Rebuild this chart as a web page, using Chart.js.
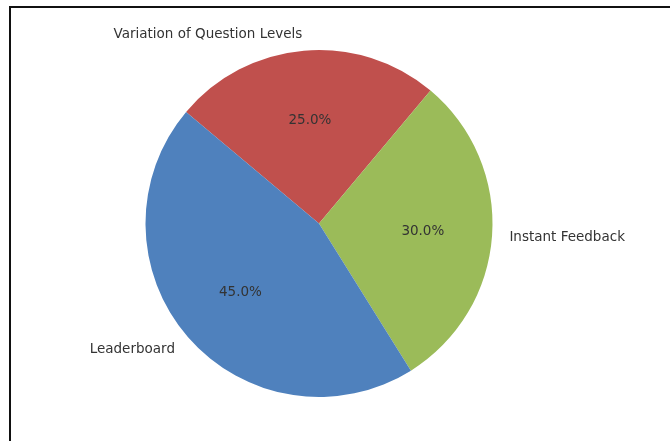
<!DOCTYPE html>
<html>
<head>
<meta charset="utf-8">
<script src="https://cdn.jsdelivr.net/npm/chart.js@4"></script>
<style>
  html, body { margin:0; padding:0; background:#fff; }
  #wrap { position:relative; width:670px; height:441px; }
  #frame { position:absolute; left:9px; top:6px; right:0; bottom:0;
           border-top:2px solid #111; border-left:2px solid #111; pointer-events:none; }
</style>
</head>
<body>
<div id="wrap">
  <canvas id="pieChart" width="670" height="441"></canvas>
  <div id="frame"></div>
</div>
<script>
// data, clockwise from the upper-left edge
const labels = ['Variation of Question Levels', 'Instant Feedback', 'Leaderboard'];
const values = [25, 30, 45];
const colors = ['#c0504d', '#9bbb59', '#4f81bd'];

// matplotlib-like labels: names at 1.1r, percents at 0.6r
const pieText = {
  id: 'pieText',
  afterDatasetsDraw(chart){
    const ctx = chart.ctx;
    const meta = chart.getDatasetMeta(0);
    const total = values.reduce((a,b)=>a+b, 0);
    ctx.save();
    ctx.font = '13.5px "DejaVu Sans"';
    ctx.fillStyle = '#333';
    ctx.textBaseline = 'middle';
    meta.data.forEach((arc, i) => {
      const p = arc.getProps(['x','y','startAngle','endAngle','outerRadius']);
      const mid = (p.startAngle + p.endAngle) / 2;
      const cx = Math.cos(mid), cy = Math.sin(mid);
      ctx.textAlign = 'center';
      ctx.fillText((values[i] / total * 100).toFixed(1) + '%', p.x + cx*p.outerRadius*0.6, p.y + cy*p.outerRadius*0.6 + 1);
      ctx.textAlign = cx < 0 ? 'right' : 'left';
      ctx.fillText(labels[i], p.x + cx*p.outerRadius*1.1, p.y + cy*p.outerRadius*1.1 + 1);
    });
    ctx.restore();
  }
};

new Chart(document.getElementById('pieChart'), {
  type: 'pie',
  data: { labels, datasets: [{ data: values, backgroundColor: colors, borderWidth: 0 }] },
  options: {
    responsive: false,
    animation: false,
    rotation: -50,
    layout: { padding: { top: 50, bottom: 44, left: 102, right: 134 } },
    plugins: { legend: { display: false }, tooltip: { enabled: false } }
  },
  plugins: [pieText]
});
</script>
</body>
</html>
